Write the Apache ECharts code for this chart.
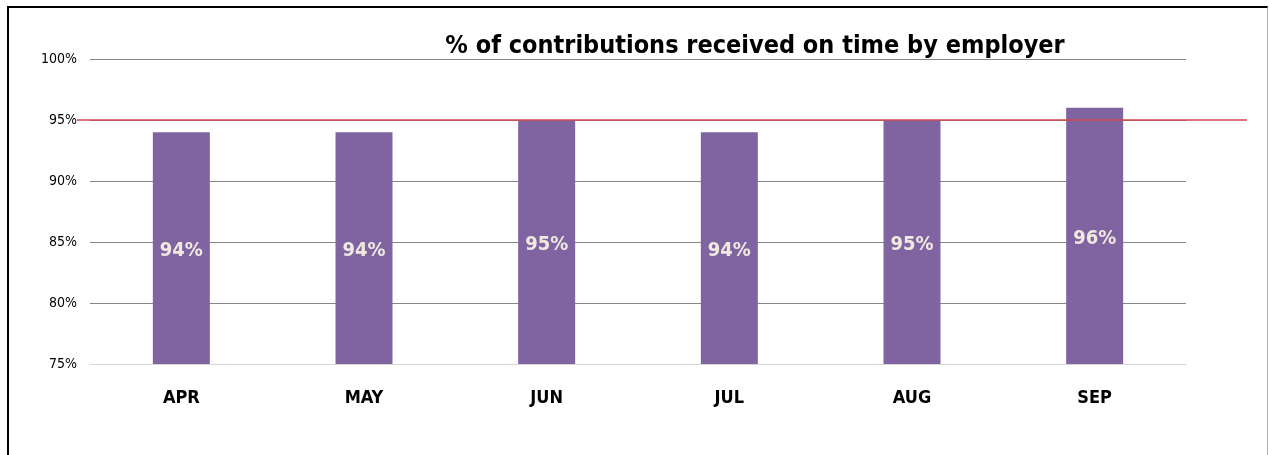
<!DOCTYPE html>
<html>
<head>
<meta charset="utf-8">
<script src="https://cdn.jsdelivr.net/npm/echarts@6/dist/echarts.min.js"></script>
<style>
  html, body { margin: 0; padding: 0; background: #fff; }
  #frame { position: absolute; left: 7px; top: 6px; width: 1261px; height: 460px;
    border-left: 2px solid #000; border-top: 2px solid #000; border-right: 1px solid #b0b0b0; box-sizing: border-box; }
  #chart { position: absolute; left: 0; top: 0; width: 1269px; height: 455px; }
</style>
</head>
<body>
<div id="frame"></div>
<div id="chart"></div>
<script>
// data
var months = ['APR', 'MAY', 'JUN', 'JUL', 'AUG', 'SEP'];
var onTime = [94, 94, 95, 94, 95, 96];
var target = [95, 95];
var yTicks = [75, 80, 85, 90, 95, 100];

var narrow = "'DejaVu Sans Condensed', 'Roboto', sans-serif";

var myChart = echarts.init(document.getElementById('chart'));
myChart.setOption({
  animation: false,
  title: {
    text: '% of contributions received on time by employer',
    left: 750,
    top: 29,
    textAlign: 'center',
    textStyle: { fontFamily: narrow, fontSize: 25, fontWeight: 'bold', color: '#000' }
  },
  grid: [
    { left: 90, right: 83, top: 59, bottom: 91 },
    { left: 77, right: 22, top: 59, bottom: 91 }
  ],
  xAxis: [{
    type: 'category',
    gridIndex: 0,
    data: months,
    axisLine: { lineStyle: { color: '#d9d9d9', width: 1 } },
    axisTick: { show: false },
    axisLabel: { margin: 25, fontFamily: narrow, fontSize: 18, fontWeight: 'bold', color: '#000' }
  }, {
    type: 'category',
    gridIndex: 1,
    data: ['a', 'b'],
    boundaryGap: false,
    show: false
  }],
  yAxis: [{
    type: 'value',
    gridIndex: 0,
    min: yTicks[0],
    max: yTicks[yTicks.length - 1],
    interval: 5,
    axisLine: { show: false },
    axisTick: { show: false },
    splitLine: { lineStyle: { color: '#868686', width: 1 } },
    axisLabel: { margin: 13, fontFamily: narrow, fontSize: 14, color: '#000', formatter: '{value}%' }
  }, {
    type: 'value',
    gridIndex: 1,
    min: yTicks[0],
    max: yTicks[yTicks.length - 1],
    show: false
  }],
  series: [{
    type: 'bar',
    xAxisIndex: 0,
    yAxisIndex: 0,
    data: onTime,
    barWidth: 57,
    itemStyle: { color: '#8064a2' },
    label: {
      show: true,
      position: 'inside',
      offset: [0, 3],
      formatter: '{c}%',
      fontFamily: narrow,
      fontSize: 20,
      fontWeight: 'bold',
      color: '#efe9df'
    }
  }, {
    type: 'line',
    xAxisIndex: 1,
    yAxisIndex: 1,
    data: target,
    symbol: 'none',
    lineStyle: { color: '#d0474a', width: 1.5 },
    z: 5
  }]
});
</script>
</body>
</html>
